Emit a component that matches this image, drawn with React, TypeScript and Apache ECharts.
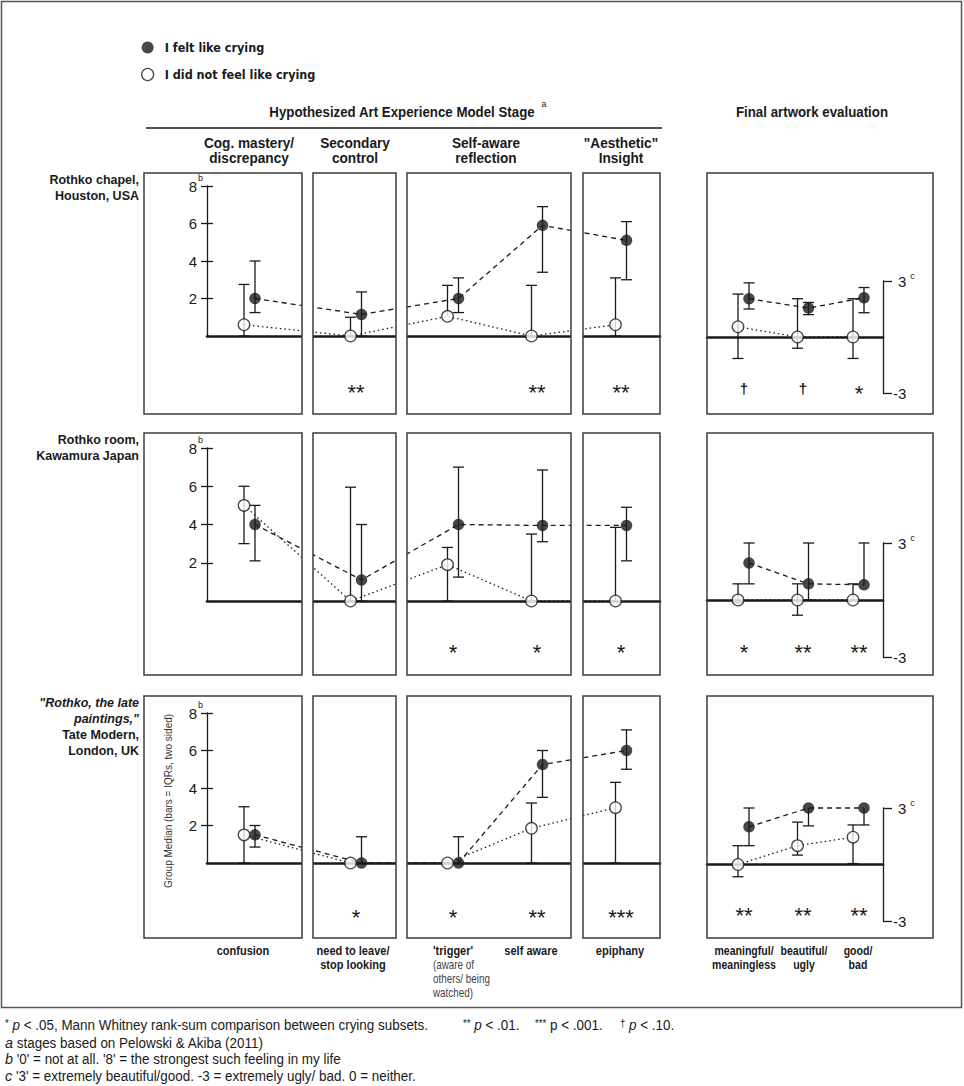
import React, { useEffect, useRef } from "react";
import * as echarts from "echarts";

// ================= DATA =================
const seriesNames = ["I felt like crying", "I did not feel like crying"];
const stageHeaders = ["Cog. mastery/\ndiscrepancy", "Secondary\ncontrol", "Self-aware\nreflection", "\"Aesthetic\"\nInsight"];
const stageCategories = ["confusion", "need to leave/\nstop looking", "'trigger'", "self aware", "epiphany"];
const triggerNote = "(aware of\nothers/ being\nwatched)";
const evalCategories = ["meaningful/\nmeaningless", "beautiful/\nugly", "good/\nbad"];
const stageTicks = [2, 4, 6, 8];
const evalTicks = [-3, 3];

// Rothko chapel, Houston
const chapelLabel = ["Rothko chapel,", "Houston, USA"];
const chapelStageCry = [2.0, 1.15, 2.0, 5.9, 5.1];
const chapelStageCryIQR = [[1.25, 4.0], [0, 2.35], [1.25, 3.1], [3.4, 6.9], [3.0, 6.1]];
const chapelStageNo = [0.6, 0, 1.05, 0, 0.6];
const chapelStageNoIQR = [[0, 2.75], [0, 1.0], [1.05, 2.7], [0, 2.7], [0, 3.1]];
const chapelStageSig = ["", "**", "", "**", "**"];
const chapelEvalCry = [2.05, 1.55, 2.1];
const chapelEvalCryIQR = [[1.5, 2.9], [1.2, 1.85], [1.3, 2.65]];
const chapelEvalNo = [0.55, 0, 0];
const chapelEvalNoIQR = [[-1.15, 2.3], [-0.6, 2.05], [-1.15, 2.05]];
const chapelEvalSig = ["†", "†", "*"];

// Rothko room, Kawamura
const kawamuraLabel = ["Rothko room,", "Kawamura Japan"];
const kawamuraStageCry = [4.0, 1.1, 4.0, 3.95, 3.95];
const kawamuraStageCryIQR = [[2.1, 5.0], [0, 4.0], [1.25, 7.0], [3.1, 6.85], [2.1, 4.9]];
const kawamuraStageNo = [5.0, 0, 1.9, 0, 0];
const kawamuraStageNoIQR = [[3.0, 6.0], [0, 5.95], [0, 2.8], [0, 3.5], [0, 3.85]];
const kawamuraStageSig = ["", "", "*", "*", "*"];
const kawamuraEvalCry = [1.95, 0.85, 0.8];
const kawamuraEvalCryIQR = [[0.85, 3.0], [0, 3.0], [0.8, 3.0]];
const kawamuraEvalNo = [0, 0, 0];
const kawamuraEvalNoIQR = [[-0.15, 0.85], [-0.8, 0.85], [0, 0.85]];
const kawamuraEvalSig = ["*", "**", "**"];

// Tate Modern, London
const tateLabel = ["\"Rothko, the late", "paintings,\"", "Tate Modern,", "London, UK"];
const tateLabelItalic = [true, true, false, false];
const tateStageCry = [1.5, 0, 0, 5.25, 6.0];
const tateStageCryIQR = [[0.85, 2.0], [0, 1.4], [0, 1.4], [3.5, 6.0], [5.0, 7.1]];
const tateStageNo = [1.5, 0, 0, 1.85, 2.95];
const tateStageNoIQR = [[0, 3.0], [0, 0], [0, 0], [0, 3.2], [0, 4.3]];
const tateStageSig = ["", "*", "*", "**", "***"];
const tateEvalCry = [2.0, 3.0, 3.0];
const tateEvalCryIQR = [[1.0, 3.0], [2.05, 3.0], [2.1, 3.0]];
const tateEvalNo = [0, 1.0, 1.45];
const tateEvalNoIQR = [[-0.65, 1.0], [0.5, 2.25], [0.05, 2.1]];
const tateEvalSig = ["**", "**", "**"];

const yAxisTitle = "Group Median (bars = IQRs, two sided)";

// ================= STYLE / LAYOUT =================
const INK = "#1a1a1a";
const FRAME = "#3c3c3c";
const NARROW = "'Liberation Sans Narrow', 'Arial Narrow', 'DejaVu Sans Condensed', 'Liberation Sans', Arial, sans-serif";
const SANS = "'Liberation Sans', Arial, Helvetica, sans-serif";

const LAYOUT = {
  axisX: 207,
  stageRight: 660,
  evalLeft: 707,
  evalRight: 883,
  evalFrameRight: 933,
  panels: [[144, 302], [313, 396], [407, 571], [583, 660]],
  rows: [
    { top: 173, bottom: 414, y0: 336, y8: 186, ePos: 281, eNeg: 393, labelTop: 172, starStage: -2.75, starEval: -2.75 },
    { top: 433, bottom: 675, y0: 601, y8: 448, ePos: 543, eNeg: 657, labelTop: 432, starStage: -2.45, starEval: -2.5 },
    { top: 696, bottom: 938, y0: 863, y8: 713, ePos: 808, eNeg: 921, labelTop: 695, starStage: -2.65, starEval: -2.45 },
  ],
  stageX: [249.5, 356, 453, 537, 621],
  evalX: [743.5, 803, 858.5],
  dx: 5.5,
  headerX: [249, 355, 486, 621],
  stageLabelX: [243, 353, 433, 531, 620],
  stageLabelAlign: ["center", "center", "left", "center", "center"],
  evalLabelX: [744, 804, 858],
};

type Part = { cry: number[]; cryIQR: number[][]; no: number[]; noIQR: number[][]; sig: string[] };

const SITES: { label: string[]; italic: boolean[]; stage: Part; evaluation: Part }[] = [
  {
    label: chapelLabel, italic: [false, false],
    stage: { cry: chapelStageCry, cryIQR: chapelStageCryIQR, no: chapelStageNo, noIQR: chapelStageNoIQR, sig: chapelStageSig },
    evaluation: { cry: chapelEvalCry, cryIQR: chapelEvalCryIQR, no: chapelEvalNo, noIQR: chapelEvalNoIQR, sig: chapelEvalSig },
  },
  {
    label: kawamuraLabel, italic: [false, false],
    stage: { cry: kawamuraStageCry, cryIQR: kawamuraStageCryIQR, no: kawamuraStageNo, noIQR: kawamuraStageNoIQR, sig: kawamuraStageSig },
    evaluation: { cry: kawamuraEvalCry, cryIQR: kawamuraEvalCryIQR, no: kawamuraEvalNo, noIQR: kawamuraEvalNoIQR, sig: kawamuraEvalSig },
  },
  {
    label: tateLabel, italic: tateLabelItalic,
    stage: { cry: tateStageCry, cryIQR: tateStageCryIQR, no: tateStageNo, noIQR: tateStageNoIQR, sig: tateStageSig },
    evaluation: { cry: tateEvalCry, cryIQR: tateEvalCryIQR, no: tateEvalNo, noIQR: tateEvalNoIQR, sig: tateEvalSig },
  },
];

function errorBarItem(_params: any, api: any) {
  const x = api.value(0);
  const lo = api.value(1);
  const hi = api.value(2);
  const med = api.value(3);
  const a = api.coord([x, lo]);
  const b = api.coord([x, hi]);
  const cap = 5.5;
  const style = { stroke: INK, lineWidth: 1.3 };
  const children: any[] = [{ type: "line", shape: { x1: a[0], y1: a[1], x2: b[0], y2: b[1] }, style }];
  if (hi > med) children.push({ type: "line", shape: { x1: b[0] - cap, y1: b[1], x2: b[0] + cap, y2: b[1] }, style });
  if (lo < med) children.push({ type: "line", shape: { x1: a[0] - cap, y1: a[1], x2: a[0] + cap, y2: a[1] }, style });
  return { type: "group", children };
}

function addPart(series: any[], xi: number, yi: number, xs: number[], part: Part, starLevel: number) {
  const dx = LAYOUT.dx;
  const cryPts = xs.map((x, i) => [x + dx, part.cry[i]]);
  const noPts = xs.map((x, i) => [x - dx, part.no[i]]);
  const bars = [
    ...xs.map((x, i) => [x - dx, part.noIQR[i][0], part.noIQR[i][1], part.no[i]]),
    ...xs.map((x, i) => [x + dx, part.cryIQR[i][0], part.cryIQR[i][1], part.cry[i]]),
  ];
  const common = { xAxisIndex: xi, yAxisIndex: yi, silent: true };
  series.push({ ...common, type: "custom", name: "IQR", data: bars, renderItem: errorBarItem, encode: { x: 0, y: [1, 2] }, z: 2, clip: false });
  series.push({ ...common, type: "line", name: "crying trend", data: cryPts, symbol: "none", clip: false, lineStyle: { color: INK, width: 1.3, type: [5, 4] }, z: 3 });
  series.push({ ...common, type: "line", name: "no crying trend", data: noPts, symbol: "none", clip: false, lineStyle: { color: INK, width: 1.3, type: [1.5, 3] }, z: 3 });
  series.push({ ...common, type: "scatter", name: seriesNames[0], data: cryPts, symbol: "circle", symbolSize: 11.5, clip: false, itemStyle: { color: INK }, z: 5 });
  series.push({ ...common, type: "scatter", name: seriesNames[1], data: noPts, symbol: "circle", symbolSize: 11.5, clip: false, itemStyle: { color: "#fff", borderColor: INK, borderWidth: 1.3 }, z: 5 });
  const sig = part.sig;
  series.push({
    ...common, type: "custom", name: "significance", clip: false, z: 5,
    data: xs.map((x) => [x, starLevel]),
    encode: { x: 0, y: 1 },
    renderItem: (params: any, api: any) => {
      const s = sig[params.dataIndex];
      if (!s) return null;
      const p = api.coord([api.value(0), api.value(1)]);
      const dagger = s === "†";
      const size = dagger ? 15 : 22;
      return {
        type: "text", x: Math.round(p[0]), y: p[1] + (dagger ? 0 : 5),
        style: {
          text: s, fill: INK, fontFamily: SANS, fontSize: size, fontWeight: dagger ? "bold" : "normal",
          font: `${dagger ? "bold " : ""}${size}px ${SANS}`,
          align: "center", verticalAlign: "middle", textAlign: "center", textVerticalAlign: "middle",
        },
      };
    },
  });
}

function buildOption() {
  const L = LAYOUT;
  const grid: any[] = [];
  const xAxis: any[] = [];
  const yAxis: any[] = [];
  const series: any[] = [];
  const G: any[] = [];

  const text = (t: string, x: number, y: number, o: any = {}) => {
    const align = o.align || "left";
    const va = o.verticalAlign || "middle";
    G.push({
      type: "text", x, y, z: 60, silent: true, rotation: o.rotation || 0, scaleX: o.scaleX || 1, scaleY: 1,
      style: {
        text: t, fill: o.fill || INK, fontFamily: o.fontFamily || SANS, fontSize: o.fontSize || 12,
        fontWeight: o.fontWeight || "normal", fontStyle: o.fontStyle || "normal", lineHeight: o.lineHeight,
        align, verticalAlign: va, textAlign: align, textVerticalAlign: va, rich: o.rich,
      },
    });
  };

  const axisLineStyle = { color: INK, width: 1.3 };

  SITES.forEach((site, r) => {
    const row = L.rows[r];
    const gi = r * 2;
    grid.push({ left: L.axisX, top: row.y8, width: L.stageRight - L.axisX, height: row.y0 - row.y8 });
    grid.push({ left: L.evalLeft, top: row.ePos, width: L.evalRight - L.evalLeft, height: row.eNeg - row.ePos });
    const hx = (gridIndex: number, min: number, max: number) => ({
      gridIndex, type: "value", min, max,
      axisLine: { show: true, onZero: true, lineStyle: { color: INK, width: 2.6 } },
      axisTick: { show: false }, axisLabel: { show: false }, splitLine: { show: false },
    });
    xAxis.push(hx(gi, L.axisX, L.stageRight));
    xAxis.push(hx(gi + 1, L.evalLeft, L.evalRight));

    yAxis.push({
      gridIndex: gi, type: "value", min: 0, max: 8, position: "left",
      axisLine: { show: true, onZero: false, lineStyle: axisLineStyle },
      axisTick: { show: true, length: 6, customValues: stageTicks, lineStyle: axisLineStyle },
      axisLabel: {
        show: true, customValues: stageTicks, margin: 4,
        formatter: (v: number) => (stageTicks.indexOf(v) < 0 ? "" : v === 8 ? "{n|8}{s|b}" : `{n|${v}}{e| }`),
        rich: {
          n: { fontFamily: SANS, fontSize: 15, color: INK, lineHeight: 26 },
          s: { fontFamily: SANS, fontSize: 9, color: INK, width: 6, lineHeight: 10, verticalAlign: "top", align: "right" },
          e: { fontFamily: SANS, fontSize: 9, width: 6 },
        },
      },
      splitLine: { show: false },
    });
    yAxis.push({
      gridIndex: gi, type: "value", min: 0, max: 8, position: "left", offset: 0,
      axisLine: { show: false },
      axisTick: { show: true, inside: true, length: 6, customValues: stageTicks, lineStyle: axisLineStyle },
      axisLabel: { show: false }, splitLine: { show: false },
    });
    yAxis.push({
      gridIndex: gi + 1, type: "value", min: -3, max: 3, position: "right",
      axisLine: { show: true, onZero: false, lineStyle: axisLineStyle },
      axisTick: { show: true, length: 9, customValues: evalTicks, lineStyle: axisLineStyle },
      axisLabel: {
        show: true, customValues: evalTicks, margin: 10,
        formatter: (v: number) => (evalTicks.indexOf(v) < 0 ? "" : v > 0 ? `{e| }{n|${v}}{s|c}` : `{n|${v}}`),
        rich: {
          n: { fontFamily: SANS, fontSize: 15, color: INK, lineHeight: 20 },
          s: { fontFamily: SANS, fontSize: 9, color: INK, lineHeight: 10, verticalAlign: "top", padding: [0, 0, 0, 4] },
          e: { fontFamily: SANS, fontSize: 9, width: 5 },
        },
      },
      splitLine: { show: false },
    });

    addPart(series, gi, r * 3, L.stageX, site.stage, row.starStage);
    addPart(series, gi + 1, r * 3 + 2, L.evalX, site.evaluation, row.starEval);

    // panel frames and gap covers
    L.panels.forEach(([x0, x1]) => {
      G.push({ type: "rect", z: 45, silent: true, shape: { x: x0, y: row.top, width: x1 - x0, height: row.bottom - row.top }, style: { fill: "none", stroke: FRAME, lineWidth: 1.5 } });
    });
    for (let i = 0; i < L.panels.length - 1; i++) {
      const gx0 = L.panels[i][1];
      const gx1 = L.panels[i + 1][0];
      G.push({ type: "rect", z: 40, silent: true, shape: { x: gx0, y: row.top - 2, width: gx1 - gx0, height: row.bottom - row.top + 4 }, style: { fill: "#fff" } });
    }
    G.push({ type: "rect", z: 45, silent: true, shape: { x: L.evalLeft, y: row.top, width: L.evalFrameRight - L.evalLeft, height: row.bottom - row.top }, style: { fill: "none", stroke: FRAME, lineWidth: 1.5 } });

    // row labels
    site.label.forEach((line, k) => {
      text(line, 139, row.labelTop + k * 16, {
        align: "right", verticalAlign: "top", fontSize: 12.5, fontWeight: "bold",
        fontStyle: site.italic[k] ? "italic" : "normal", lineHeight: 16,
      });
    });
  });

  // outer frame
  G.push({ type: "rect", z: 45, silent: true, shape: { x: 1.5, y: 1.5, width: 960, height: 1006 }, style: { fill: "none", stroke: "#555", lineWidth: 1.5 } });

  // headers
  text("Hypothesized Art Experience Model Stage", 402, 112, { align: "center", fontSize: 14, fontWeight: "bold", scaleX: 0.95 });
  text("a", 544, 104, { align: "center", fontSize: 9 });
  G.push({ type: "line", z: 45, silent: true, shape: { x1: 146, y1: 128, x2: 662, y2: 128 }, style: { stroke: INK, lineWidth: 1.5 } });
  text("Final artwork evaluation", 812, 112, { align: "center", fontSize: 14, fontWeight: "bold", scaleX: 0.95 });
  stageHeaders.forEach((h, i) => text(h, L.headerX[i], 150.5, { align: "center", fontSize: 15, fontWeight: "bold", lineHeight: 15, scaleX: 0.91 }));

  // y axis title (bottom row)
  text(yAxisTitle, 168, 801, { align: "center", fontSize: 11, rotation: Math.PI / 2, fill: "#333", scaleX: 0.91 });

  // category labels under bottom row
  stageCategories.forEach((c, i) => {
    text(c, L.stageLabelX[i], 944, { align: L.stageLabelAlign[i], verticalAlign: "top", fontSize: 12, fontWeight: "bold", lineHeight: 14, scaleX: 0.92 });
  });
  text(triggerNote, L.stageLabelX[2], 958, { align: "left", verticalAlign: "top", fontSize: 12, lineHeight: 14, fill: "#444", scaleX: 0.82 });
  evalCategories.forEach((c, i) => {
    text(c, L.evalLabelX[i], 944, { align: "center", verticalAlign: "top", fontSize: 12, fontWeight: "bold", lineHeight: 14, scaleX: 0.88 });
  });

  // footnotes
  const fr = (extra: any = {}) => ({ fontFamily: SANS, fontSize: 14, fill: INK, color: INK, lineHeight: 14, ...extra });
  const footRich = {
    s: fr({ fontSize: 10, verticalAlign: "top", lineHeight: 10 }),
    i: fr({ fontStyle: "italic" }),
    r: fr({}),
    a: fr({ fontStyle: "italic", fontSize: 15 }),
  };
  const FX = 0.96;
  text("{s|*} {i|p}{r| < .05, Mann Whitney rank-sum comparison between crying subsets.}", 5, 1025, { rich: footRich, fontSize: 14, scaleX: FX });
  text("{s|**} {i|p}{r| < .01.}", 463, 1025, { rich: footRich, fontSize: 14, scaleX: FX });
  text("{s|***} {r|p < .001.}", 535, 1025, { rich: footRich, fontSize: 14, scaleX: FX });
  text("{s|†} {i|p}{r| < .10.}", 620, 1025, { rich: footRich, fontSize: 14, scaleX: FX });
  text("{a|a} {r|stages based on Pelowski & Akiba (2011)}", 5, 1043, { rich: footRich, fontSize: 14, scaleX: FX });
  text("{a|b} {r|'0' = not at all. '8' = the strongest such feeling in my life}", 5, 1059, { rich: footRich, fontSize: 14, scaleX: FX });
  text("{a|c} {r|'3' = extremely beautiful/good. -3 = extremely ugly/ bad. 0 = neither.}", 5, 1076, { rich: footRich, fontSize: 14, scaleX: FX });

  return {
    animation: false,
    backgroundColor: "#fff",
    legend: {
      data: [
        { name: seriesNames[0], itemStyle: { color: INK } },
        { name: seriesNames[1], itemStyle: { color: "#fff", borderColor: INK, borderWidth: 1.3 } },
      ],
      orient: "vertical", left: 136, top: 35, itemWidth: 24, itemHeight: 12, itemGap: 12,
      icon: "circle", selectedMode: false,
      textStyle: { fontFamily: NARROW, fontWeight: "bold", fontSize: 12.5, lineHeight: 15, color: INK },
    },
    grid, xAxis, yAxis, series,
    graphic: { elements: G },
  };
}

export default function App() {
  const ref = useRef<HTMLDivElement>(null);
  useEffect(() => {
    if (!ref.current) return;
    const chart = echarts.init(ref.current, null, { renderer: "svg", width: 964, height: 1086 });
    chart.setOption(buildOption() as any);
    return () => chart.dispose();
  }, []);
  return <div ref={ref} style={{ position: "absolute", left: 0, top: 0, width: 964, height: 1086, background: "#fff" }} />;
}
